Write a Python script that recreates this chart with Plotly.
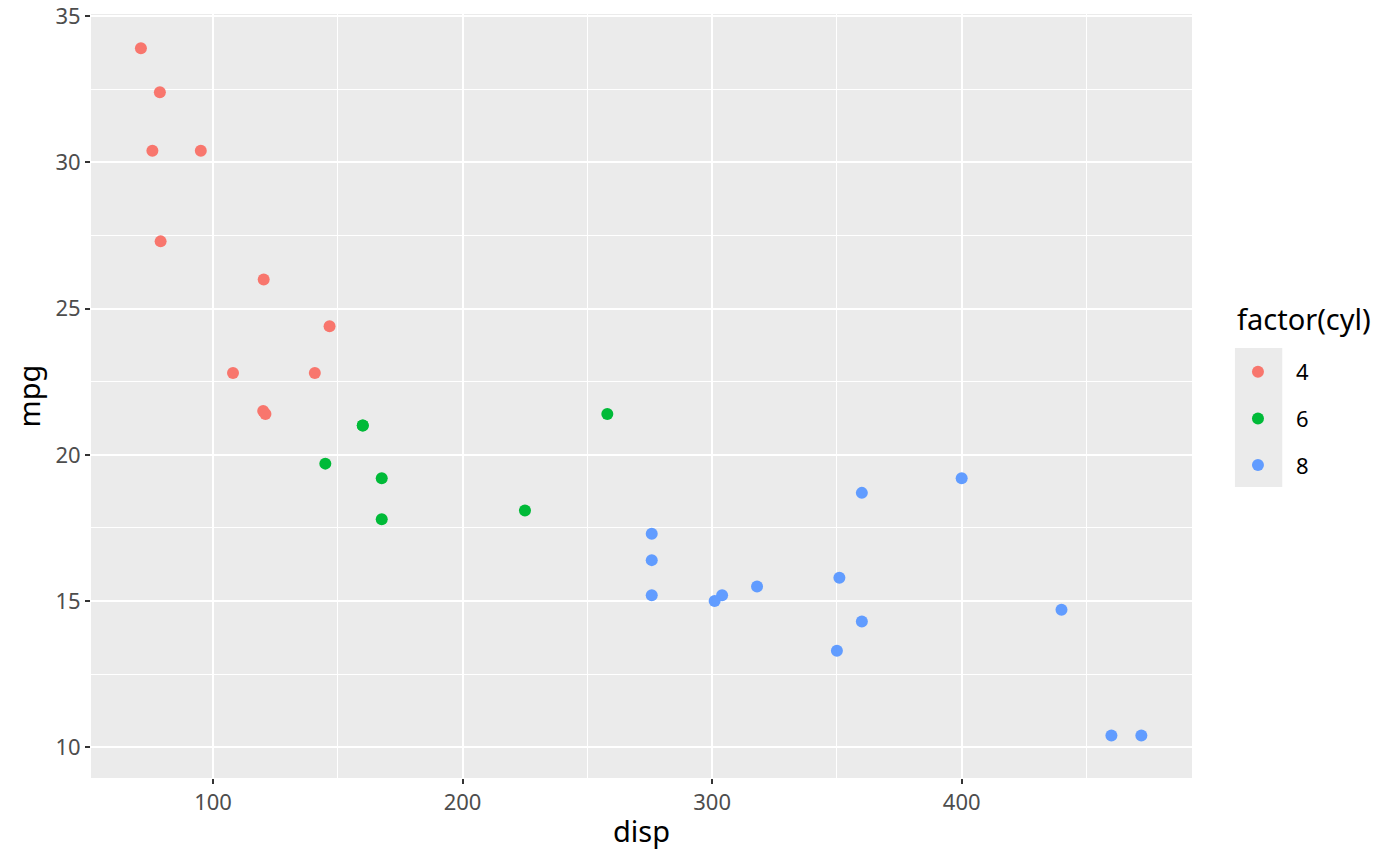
import plotly.graph_objects as go

# mtcars: disp vs mpg by cylinders
disp_4 = [108, 146.7, 140.8, 78.7, 75.7, 71.1, 120.1, 79, 120.3, 95.1, 121]
mpg_4 = [22.8, 24.4, 22.8, 32.4, 30.4, 33.9, 21.5, 27.3, 26.0, 30.4, 21.4]
disp_6 = [160, 160, 258, 225, 167.6, 167.6, 145]
mpg_6 = [21.0, 21.0, 21.4, 18.1, 19.2, 17.8, 19.7]
disp_8 = [360, 360, 275.8, 275.8, 275.8, 472, 460, 440, 318, 304, 350, 400, 351, 301]
mpg_8 = [18.7, 14.3, 16.4, 17.3, 15.2, 10.4, 10.4, 14.7, 15.5, 15.2, 13.3, 19.2, 15.8, 15.0]

groups = [("4", disp_4, mpg_4, "#F8766D"),
          ("6", disp_6, mpg_6, "#00BA38"),
          ("8", disp_8, mpg_8, "#619CFF")]

fig = go.Figure()
for name, x, y, col in groups:
    fig.add_trace(go.Scatter(x=x, y=y, mode="markers", name=name, legendgroup=name,
                             marker=dict(color=col, size=12, line=dict(width=0))))

grid = dict(showgrid=True, gridcolor="white", gridwidth=2, zeroline=False,
            ticks="outside", ticklen=5, tickwidth=2, tickcolor="#333333",
            tickfont=dict(size=22, color="#4D4D4D"), showline=False,
            ticklabeloverflow="allow",
            minor=dict(showgrid=True, gridcolor="white", gridwidth=1))

fig.update_layout(
    template="none",
    width=1400, height=866,
    margin=dict(l=91, r=208, t=14, b=88),
    plot_bgcolor="#EBEBEB", paper_bgcolor="white",
    font=dict(family="Noto Sans", color="black"),
    legend=dict(x=1.0254, y=0.5589, xanchor="left", yanchor="top",
                bgcolor="rgba(0,0,0,0)", font=dict(size=22),
                itemwidth=66, tracegroupgap=15),
    annotations=[dict(text="factor(cyl)", x=1.039, y=0.6008, xref="paper", yref="paper",
                      xanchor="left", yanchor="middle", showarrow=False,
                      font=dict(size=29, color="black"))],
    shapes=[dict(type="rect", xref="paper", yref="paper", x0=1.039, x1=1.082,
                 y0=0.3809, y1=0.5628, fillcolor="#EBEBEB", line=dict(width=0),
                 layer="below")],
)
fig.update_xaxes(range=[51.1, 492.3], tickvals=[100, 200, 300, 400],
                 title=dict(text="disp", font=dict(size=29), standoff=6), **grid)
fig.update_xaxes(minor_tickvals=[50, 150, 250, 350, 450])
fig.update_yaxes(range=[8.95, 35.075], tickvals=[10, 15, 20, 25, 30, 35],
                 title=dict(text="mpg", font=dict(size=29), standoff=6), **grid)
fig.update_yaxes(minor_tickvals=[12.5, 17.5, 22.5, 27.5, 32.5])

fig.write_html("out.html", config={"displayModeBar": False},
               post_script="document.body.style.margin='0';")
